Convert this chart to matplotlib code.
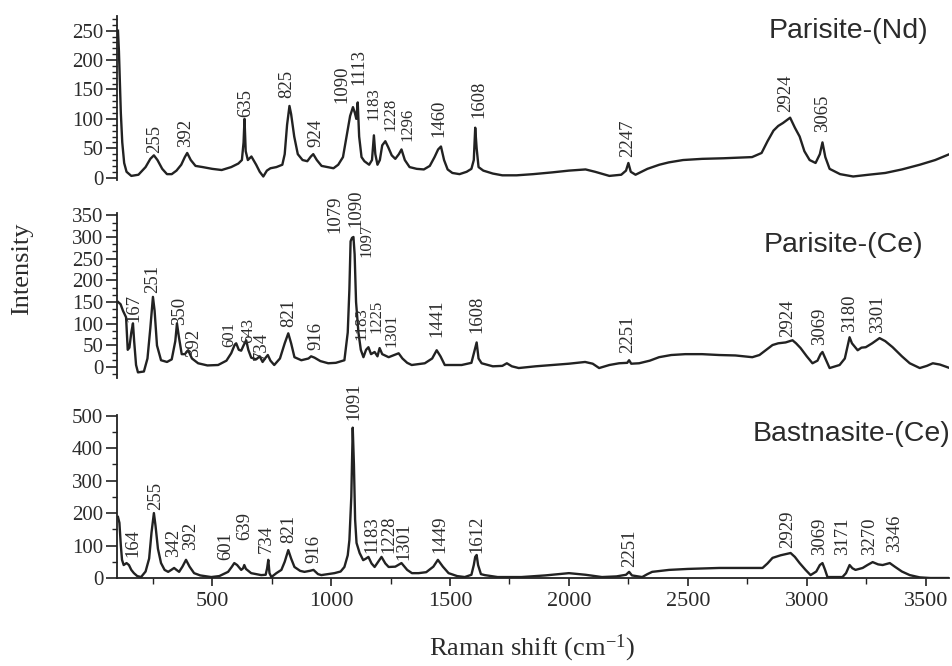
import matplotlib
matplotlib.use("Agg")
import matplotlib.pyplot as plt
from matplotlib.ticker import MultipleLocator

plt.rcParams['font.family'] = ['Liberation Serif', 'DejaVu Serif']
plt.rcParams['mathtext.default'] = 'regular'

# --- spectra (wavenumber, intensity) ---
nd_x = [104, 108, 112, 116, 122, 130, 140, 160, 190, 220,
        240, 255, 270, 290, 310, 330, 350, 370, 385, 395,
        410, 430, 460, 500, 540, 580, 610, 625, 632, 636,
        641, 650, 665, 685, 700, 715, 730, 745, 770, 795,
        805, 815, 825, 832, 845, 860, 880, 900, 915, 925,
        940, 960, 985, 1010, 1030, 1050, 1065, 1080, 1092, 1100,
        1106, 1112, 1118, 1128, 1140, 1160, 1172, 1180, 1186, 1195,
        1205, 1215, 1228, 1240, 1255, 1270, 1285, 1296, 1310, 1330,
        1360, 1390, 1415, 1435, 1450, 1462, 1475, 1490, 1510, 1540,
        1570, 1590, 1600, 1606, 1612, 1620, 1640, 1680, 1720, 1780,
        1850, 1930, 2000, 2070, 2110, 2170, 2220, 2240, 2250, 2260,
        2280, 2330, 2380, 2420, 2480, 2560, 2650, 2770, 2810, 2835,
        2860, 2880, 2900, 2930, 2950, 2970, 2990, 3012, 3037, 3055,
        3066, 3078, 3096, 3140, 3195, 3260, 3330, 3400, 3475, 3540,
        3600]
nd_y = [250, 215, 160, 110, 60, 25, 10, 3, 5, 18,
        32, 38, 30, 15, 6, 6, 12, 22, 35, 42,
        30, 20, 18, 15, 13, 18, 24, 30, 60, 100,
        45, 30, 36, 22, 10, 2, 12, 16, 18, 22,
        40, 90, 122, 108, 70, 40, 30, 28, 36, 40,
        30, 20, 18, 16, 22, 35, 70, 105, 120, 110,
        100, 128, 70, 35, 28, 22, 30, 72, 40, 22,
        30, 55, 62, 52, 38, 32, 40, 48, 30, 18,
        15, 14, 20, 35, 48, 53, 30, 14, 8, 6,
        10, 15, 30, 85, 50, 18, 12, 7, 4, 4,
        6, 9, 12, 14, 10, 3, 5, 12, 25, 10,
        5, 15, 22, 26, 30, 32, 33, 35, 42, 62,
        80, 88, 93, 102, 85, 70, 45, 30, 25, 40,
        60, 35, 15, 6, 2, 5, 8, 14, 22, 30,
        40]

ce_x = [105, 115, 125, 138, 145, 152, 160, 167, 172, 180,
        188, 213, 228, 240, 251, 258, 268, 285, 310, 330,
        345, 352, 360, 372, 385, 399, 415, 441, 480, 525,
        560, 580, 595, 601, 612, 622, 632, 643, 652, 664,
        685, 700, 712, 725, 734, 745, 761, 785, 805, 820,
        832, 846, 875, 905, 916, 930, 955, 988, 1020, 1056,
        1070, 1077, 1082, 1088, 1094, 1099, 1105, 1115, 1125, 1136,
        1147, 1157, 1168, 1183, 1195, 1204, 1215, 1242, 1265, 1284,
        1300, 1320, 1339, 1394, 1425, 1444, 1460, 1478, 1549, 1590,
        1604, 1612, 1620, 1633, 1680, 1720, 1739, 1760, 1789, 1860,
        1929, 2000, 2068, 2100, 2127, 2170, 2211, 2245, 2253, 2262,
        2295, 2340, 2379, 2430, 2489, 2560, 2632, 2700, 2771, 2801,
        2830, 2856, 2880, 2911, 2940, 2955, 2974, 3000, 3024, 3045,
        3058, 3066, 3078, 3096, 3120, 3138, 3160, 3172, 3180, 3190,
        3214, 3230, 3248, 3275, 3306, 3330, 3361, 3400, 3433, 3475,
        3505, 3530, 3560, 3601]
ce_y = [150, 145, 130, 115, 40, 45, 80, 101, 60, 5,
        -12, -10, 20, 90, 162, 130, 50, 16, 12, 18,
        60, 101, 70, 30, 30, 39, 20, 9, 4, 5,
        15, 32, 52, 55, 40, 38, 50, 62, 40, 22,
        18, 25, 12, 22, 28, 15, 5, 20, 55, 78,
        55, 23, 16, 20, 25, 22, 14, 9, 10, 16,
        80, 180, 290, 298, 300, 260, 150, 80, 40, 23,
        40, 46, 30, 35, 25, 44, 30, 23, 28, 32,
        20, 10, 5, 9, 20, 39, 25, 5, 5, 10,
        40, 57, 20, 9, 2, 3, 9, 2, -2, 2,
        5, 8, 12, 8, -2, 5, 9, 10, 16, 8,
        9, 15, 23, 28, 30, 30, 28, 27, 23, 28,
        40, 51, 55, 57, 62, 55, 44, 25, 9, 15,
        30, 35, 20, -2, 2, 5, 20, 50, 69, 55,
        39, 45, 46, 55, 67, 60, 46, 25, 9, -2,
        3, 9, 6, -2]

bs_x = [104, 110, 116, 121, 128, 140, 150, 160, 171, 185,
        201, 220, 235, 245, 255, 262, 272, 285, 300, 315,
        328, 340, 350, 361, 375, 390, 405, 424, 450, 496,
        530, 567, 583, 593, 605, 622, 630, 635, 642, 664,
        706, 725, 731, 736, 741, 749, 770, 791, 805, 820,
        832, 846, 870, 888, 910, 926, 945, 959, 1014, 1040,
        1056, 1070, 1077, 1085, 1091, 1096, 1101, 1107, 1120, 1135,
        1147, 1157, 1170, 1183, 1198, 1212, 1228, 1242, 1270, 1296,
        1320, 1340, 1368, 1400, 1430, 1449, 1470, 1494, 1530, 1562,
        1590, 1600, 1606, 1612, 1618, 1630, 1646, 1700, 1800, 1900,
        2000, 2070, 2139, 2200, 2240, 2253, 2265, 2308, 2330, 2350,
        2421, 2500, 2632, 2720, 2814, 2835, 2856, 2890, 2932, 2950,
        2970, 2995, 3016, 3040, 3055, 3066, 3077, 3087, 3150, 3165,
        3180, 3192, 3205, 3235, 3255, 3277, 3300, 3319, 3349, 3370,
        3400, 3433, 3475, 3520, 3600]
bs_y = [188, 170, 100, 56, 40, 46, 40, 25, 15, 6,
        3, 20, 60, 140, 200, 160, 90, 46, 25, 19,
        25, 31, 25, 19, 35, 56, 35, 15, 8, 3,
        6, 19, 35, 46, 40, 25, 30, 40, 28, 15,
        9, 10, 30, 56, 15, 3, 15, 25, 50, 86,
        60, 34, 22, 19, 22, 25, 12, 9, 15, 20,
        34, 70, 117, 250, 463, 350, 180, 108, 77, 55,
        60, 65, 45, 34, 50, 65, 45, 34, 35, 46,
        25, 15, 15, 18, 35, 56, 35, 15, 6, 3,
        10, 40, 65, 71, 40, 12, 9, 3, 3, 8,
        15, 10, 3, 5, 10, 19, 8, 3, 12, 19,
        25, 28, 31, 31, 31, 45, 62, 70, 77, 65,
        46, 25, 9, 20, 40, 46, 25, 3, 3, 15,
        40, 30, 25, 31, 40, 49, 42, 40, 46, 35,
        20, 9, 2, 0, 0]

# --- peak labels (text) ---
nd_peaks = ['255', '392', '635', '825', '924', '1090', '1113', '1183',
            '1228', '1296', '1460', '1608', '2247', '2924', '3065']
ce_peaks = ['167', '251', '350', '392', '601', '643', '734', '821', '916',
            '1079', '1090', '1097', '1183', '1225', '1301', '1441', '1608',
            '2251', '2924', '3069', '3180', '3301']
bs_peaks = ['164', '255', '342', '392', '601', '639', '734', '821', '916',
            '1091', '1183', '1228', '1301', '1449', '1612', '2251', '2929',
            '3069', '3171', '3270', '3346']

# label anchors (x, y) in data units -- layout only
nd_pos = [(257, 42), (390, 53), (643, 104), (812, 136), (938, 53),
          (1044, 127), (1118, 158), (1180, 98), (1250, 80), (1322, 62),
          (1452, 70), (1620, 102), (2245, 36), (2911, 112), (3066, 78)]
ce_pos = [(171, 104), (251, 170), (361, 97), (420, 23), (572, 46),
          (650, 55), (706, 16), (824, 92), (938, 39), (1018, 309),
          (1106, 323), (1148, 253), (1128, 62), (1190, 78), (1252, 46),
          (1444, 69), (1612, 78), (2245, 32), (2919, 69), (3053, 51),
          (3180, 81), (3298, 78)]
bs_pos = [(167, 65), (264, 210), (336, 65), (411, 86), (559, 56),
          (635, 117), (727, 77), (820, 108), (926, 46), (1094, 488),
          (1170, 77), (1242, 77), (1305, 56), (1457, 77), (1612, 77),
          (2257, 34), (2919, 93), (3053, 71), (3150, 71), (3264, 71),
          (3370, 80)]

ink = '#222222'
txt = '#2b2b2b'

fig = plt.figure(figsize=(9.53, 6.66), dpi=100)
ax_top = fig.add_axes([0.1228, 0.7297, 0.8735, 0.2463])
ax_mid = fig.add_axes([0.1228, 0.4324, 0.8735, 0.2476])
ax_bot = fig.add_axes([0.1228, 0.1321, 0.8735, 0.2448])

panels = [
    (ax_top, nd_x, nd_y, nd_peaks, nd_pos, (-4, 275), 50, 10),
    (ax_mid, ce_x, ce_y, ce_peaks, ce_pos, (-25, 355), 50, 50 / 3),
    (ax_bot, bs_x, bs_y, bs_peaks, bs_pos, (0, 502), 100, 50),
]

# crowded label groups in the upper panels get a slightly smaller font
crowded = {'1183', '1225', '1228', '1296', '1301', '1097', '601', '643'}

for ax, xs, ys, peaks, pos, ylim, major, minor in panels:
    ax.plot(xs, ys, color=ink, lw=1.7, solid_joinstyle='round')
    ax.set_xlim(100, 3600)
    ax.yaxis.set_major_locator(MultipleLocator(major))
    ax.yaxis.set_minor_locator(MultipleLocator(minor))
    ax.set_ylim(*ylim)
    for s in ['top', 'right']:
        ax.spines[s].set_visible(False)
    ax.spines['left'].set_linewidth(1.3)
    ax.spines['left'].set_color(ink)
    ax.tick_params(axis='y', which='major', direction='out', length=8,
                   width=1.2, labelsize=15, labelcolor=txt, color=ink, pad=2)
    ax.tick_params(axis='y', which='minor', direction='out', length=3.5,
                   width=1.0, color=ink)
    for label, (px, py) in zip(peaks, pos):
        fs = 12 if (label in crowded and ax is not ax_bot) else 13.5
        ax.text(px, py, label, rotation=90, ha='center', va='bottom',
                fontsize=fs, color=txt, clip_on=False)

ax_top.set_yticks([0, 50, 100, 150, 200, 250])
ax_mid.set_yticks([0, 50, 100, 150, 200, 250, 300, 350])
ax_bot.set_yticks([0, 100, 200, 300, 400, 500])

for ax in (ax_top, ax_mid):
    ax.spines['bottom'].set_visible(False)
    ax.tick_params(axis='x', which='both', bottom=False, labelbottom=False)

ax_bot.spines['bottom'].set_linewidth(1.3)
ax_bot.spines['bottom'].set_color(ink)
ax_bot.xaxis.set_major_locator(MultipleLocator(500))
ax_bot.xaxis.set_minor_locator(MultipleLocator(250))
ax_bot.tick_params(axis='x', which='major', direction='out', length=6,
                   width=1.2, labelsize=16, labelcolor=txt, color=ink, pad=4)
ax_bot.tick_params(axis='x', which='minor', direction='out', length=4,
                   width=1.0, color=ink)
ax_bot.set_xticks([500, 1000, 1500, 2000, 2500, 3000, 3500])
ax_bot.set_xlim(100, 3600)

# panel names
fig.text(0.974, 0.953, 'Parisite-(Nd)', ha='right', va='center',
         fontsize=20.5, family='Liberation Sans', color=txt)
fig.text(0.9685, 0.632, 'Parisite-(Ce)', ha='right', va='center',
         fontsize=20.5, family='Liberation Sans', color=txt)
fig.text(0.997, 0.348, 'Bastnasite-(Ce)', ha='right', va='center',
         fontsize=20.5, family='Liberation Sans', color=txt)

fig.text(0.023, 0.597, 'Intensity', rotation=90, ha='center', va='center',
         fontsize=19, color=txt)
fig.text(0.558, 0.026, 'Raman shift (cm$^{-1}$)', ha='center', va='center',
         fontsize=19, color=txt)

fig.savefig('out.png', dpi=100)
